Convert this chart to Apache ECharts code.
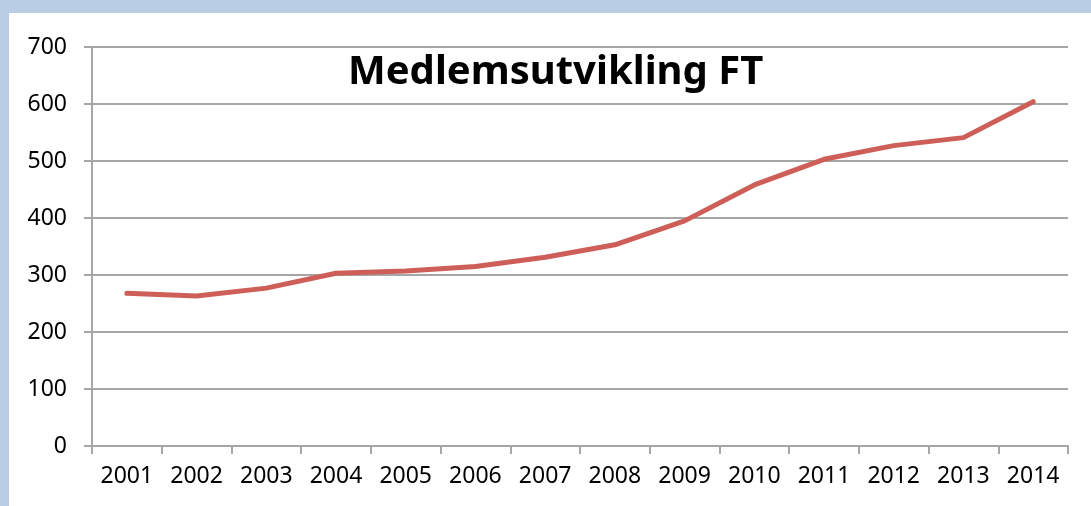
<!DOCTYPE html>
<html><head><meta charset="utf-8">
<script src="https://cdn.jsdelivr.net/npm/echarts@6/dist/echarts.min.js"></script>
<style>
html,body{margin:0;padding:0;background:#b9cde5;}
#frame{position:absolute;left:9px;top:13px;width:1082px;height:493px;background:#fff;}
#c{position:absolute;left:0;top:0;width:1091px;height:506px;}
</style></head><body>
<div id="frame"></div>
<div id="c"></div>
<script>
const titleText = "Medlemsutvikling FT";
const years = ["2001","2002","2003","2004","2005","2006","2007","2008","2009","2010","2011","2012","2013","2014"];
const members = [268, 263, 277, 303, 307, 315, 331, 353, 395, 458, 503, 527, 541, 604];
const yTicks = {min: 0, max: 700, interval: 100};

const chart = echarts.init(document.getElementById('c'), null, {renderer: 'canvas'});
chart.setOption({
  backgroundColor: 'transparent',
  animation: false,
  title: {
    text: titleText, left: 343, top: 48,
    textStyle: {fontFamily: 'Noto Sans', fontWeight: 'bold', fontSize: 40, color: '#000'}
  },
  grid: {left: 92, right: 23, top: 47, bottom: 60},
  xAxis: {
    type: 'category', data: years, boundaryGap: true,
    axisLine: {lineStyle: {color: '#a6a6a6', width: 2}},
    axisTick: {show: true, length: 8, lineStyle: {color: '#a6a6a6', width: 2}},
    axisLabel: {fontFamily: 'Noto Sans', fontSize: 23, color: '#000', margin: 19}
  },
  yAxis: {
    type: 'value', min: yTicks.min, max: yTicks.max, interval: yTicks.interval,
    axisLine: {show: true, lineStyle: {color: '#a6a6a6', width: 2}},
    axisTick: {show: true, length: 8, lineStyle: {color: '#a6a6a6', width: 2}},
    splitLine: {lineStyle: {color: '#a6a6a6', width: 2}},
    axisLabel: {fontFamily: 'Noto Sans', fontSize: 23, color: '#000', margin: 25}
  },
  series: [{
    type: 'line', data: members, symbol: 'none',
    lineStyle: {color: '#cd5f58', width: 5, cap: 'round', join: 'round'}
  }]
});
</script>
</body></html>
